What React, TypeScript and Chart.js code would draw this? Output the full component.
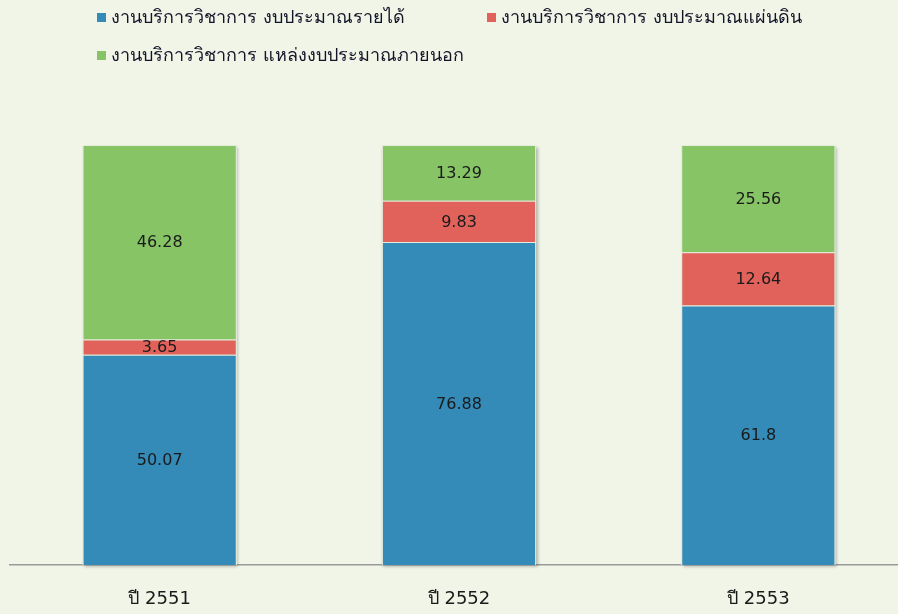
import React, { useEffect, useRef } from "react";
import { Chart, registerables } from "chart.js";

Chart.register(...registerables);

const categories = ["ปี 2551", "ปี 2552", "ปี 2553"];
const seriesNames = [
  "งานบริการวิชาการ งบประมาณรายได้",
  "งานบริการวิชาการ งบประมาณแผ่นดิน",
  "งานบริการวิชาการ แหล่งงบประมาณภายนอก",
];
const revenueBudget = [50.07, 76.88, 61.8];
const stateBudget = [3.65, 9.83, 12.64];
const externalBudget = [46.28, 13.29, 25.56];
const seriesColors = ["#348bb8", "#e0625b", "#86c466"];

const FONT = "Tahoma, 'DejaVu Sans', 'Noto Sans', sans-serif";

const shadowPlugin = {
  id: "stackShadow",
  beforeDatasetsDraw(chart: any) {
    const ctx = chart.ctx;
    const n = chart.data.datasets.length;
    const first = chart.getDatasetMeta(0);
    const last = chart.getDatasetMeta(n - 1);
    ctx.save();
    ctx.shadowColor = "rgba(0,0,0,0.28)";
    ctx.shadowBlur = 3;
    ctx.shadowOffsetX = 1.5;
    ctx.shadowOffsetY = 1.5;
    ctx.fillStyle = "#dfe6d6";
    first.data.forEach((el: any, i: number) => {
      const topEl = last.data[i];
      const w = el.width;
      ctx.fillRect(el.x - w / 2, topEl.y, w, el.base - topEl.y);
    });
    ctx.restore();
  },
};

const labelPlugin = {
  id: "segLabels",
  afterDatasetsDraw(chart: any) {
    const ctx = chart.ctx;
    ctx.save();
    ctx.font = `16px ${FONT}`;
    ctx.fillStyle = "#1a1a1a";
    ctx.textAlign = "center";
    ctx.textBaseline = "middle";
    chart.data.datasets.forEach((ds: any, di: number) => {
      const meta = chart.getDatasetMeta(di);
      meta.data.forEach((el: any, i: number) => {
        const cy = (el.y + el.base) / 2;
        ctx.fillText(String(ds.data[i]), el.x, cy + 1);
      });
    });
    ctx.restore();
  },
};

export default function App() {
  const ref = useRef<HTMLCanvasElement>(null);
  useEffect(() => {
    if (!ref.current) return;
    const series = [revenueBudget, stateBudget, externalBudget];
    const chart = new Chart(ref.current, {
      type: "bar",
      data: {
        labels: categories,
        datasets: series.map((d, i) => ({
          label: seriesNames[i],
          data: d,
          backgroundColor: seriesColors[i],
          borderColor: "#e6eddc",
          borderWidth: 1,
          barPercentage: 0.515,
          categoryPercentage: 1,
        })),
      },
      options: {
        responsive: false,
        animation: false,
        layout: { padding: { top: 145, left: 10, right: 2, bottom: 0 } },
        plugins: { legend: { display: false }, tooltip: { enabled: false } },
        scales: {
          x: {
            stacked: true,
            grid: { display: false },
            border: { display: true, color: "#9a9a9a", width: 1.5 },
            ticks: { color: "#1a1a1a", padding: 16, font: { size: 18, family: FONT } },
            afterFit: (scale: any) => {
              scale.height = 49;
            },
          },
          y: { stacked: true, display: false, min: 0, max: 100 },
        },
      },
      plugins: [shadowPlugin, labelPlugin],
    });
    return () => chart.destroy();
  }, []);

  const legendItem = (i: number) => (
    <div key={i} style={{ display: "flex", alignItems: "center", whiteSpace: "nowrap" }}>
      <span style={{ display: "inline-block", width: 9, height: 9, background: seriesColors[i], marginRight: 5 }} />
      <span>{seriesNames[i]}</span>
    </div>
  );

  return (
    <div style={{ position: "fixed", left: 0, top: 0, width: 898, height: 614, overflow: "hidden", background: "#f0f5e8" }}>
      <canvas ref={ref} width={910} height={614} style={{ position: "absolute", left: 0, top: 0 }} />
      <div
        style={{
          position: "absolute",
          left: 97,
          top: 6,
          display: "grid",
          gridTemplateColumns: "390px 390px",
          rowGap: 16,
          fontFamily: FONT,
          fontSize: 18,
          lineHeight: "22px",
          color: "#141428",
        }}
      >
        {legendItem(0)}
        {legendItem(1)}
        {legendItem(2)}
      </div>
    </div>
  );
}
